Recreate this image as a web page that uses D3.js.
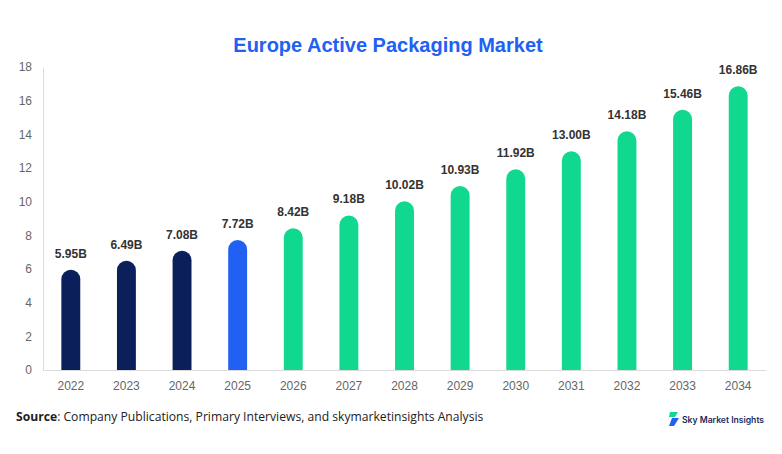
<!DOCTYPE html>
<html><head><meta charset="utf-8">
<script src="https://cdn.jsdelivr.net/npm/d3@7"></script>
<style>body{margin:0;background:#fff}svg{display:block}</style>
</head><body>
<svg id="c" width="782" height="454"></svg>
<script>
const years = ["2022","2023","2024","2025","2026","2027","2028","2029","2030","2031","2032","2033","2034"];
const values = [5.95,6.49,7.08,7.72,8.42,9.18,10.02,10.93,11.92,13.00,14.18,15.46,16.86];
const labels = ["5.95B","6.49B","7.08B","7.72B","8.42B","9.18B","10.02B","10.93B","11.92B","13.00B","14.18B","15.46B","16.86B"];
const yTicks = [0,2,4,6,8,10,12,14,16,18];
const colorFor = y => (+y <= 2024 ? "#0b1f5b" : (+y === 2025 ? "#2160f3" : "#10d88f"));

const svg = d3.select("#c");
const m = {l:43, r:16, t:67, b:84};
const W = 782, H = 454;
const x = d3.scaleBand().domain(years).range([m.l, W - m.r]).paddingInner(0.66).paddingOuter(0.33);
const y = d3.scaleLinear().domain([0,18]).range([H - m.b, m.t]);

svg.append("text").attr("x", 388).attr("y", 52).attr("text-anchor","middle")
  .attr("font-family","Liberation Sans, Arial, sans-serif").attr("font-weight","bold")
  .attr("font-size", 20).attr("fill","#2160f3").text("Europe Active Packaging Market");

// axes
const ya = svg.append("g").attr("transform",`translate(${m.l},0)`)
  .call(d3.axisLeft(y).tickValues(yTicks).tickSize(0).tickPadding(11));
ya.select(".domain").attr("stroke","#dcdcdc");
ya.selectAll("text").attr("font-family","Liberation Sans, Arial, sans-serif").attr("font-size",12).attr("fill","#666");

const xa = svg.append("g").attr("transform",`translate(0,${H - m.b})`)
  .call(d3.axisBottom(x).tickSize(0).tickPadding(11));
xa.select(".domain").attr("stroke","#dcdcdc").attr("d", `M${m.l},0.5H${W - m.r}`);
xa.selectAll("text").attr("font-family","Liberation Sans, Arial, sans-serif").attr("font-size",12).attr("fill","#666");

// bars with rounded tops
const bw = x.bandwidth(), r = bw/2;
svg.append("g").selectAll("path").data(years).join("path")
  .attr("fill", d => colorFor(d))
  .attr("d", (d,i) => {
    const x0 = x(d), y0 = y(values[i]), yb = y(0);
    return `M${x0},${yb}V${y0 + r}A${r},${r} 0 0 1 ${x0 + bw},${y0 + r}V${yb}Z`;
  });

svg.append("g").selectAll("text").data(years).join("text")
  .attr("x", d => x(d) + bw/2).attr("y", (d,i) => y(values[i]) - 12)
  .attr("text-anchor","middle").attr("font-family","Liberation Sans, Arial, sans-serif")
  .attr("font-weight","bold").attr("font-size",12).attr("fill","#333")
  .text((d,i) => labels[i]);

// source
const src = svg.append("text").attr("x",16).attr("y",421)
  .attr("font-family","Open Sans, Noto Sans, sans-serif").attr("font-size",12.15).attr("fill","#222");
src.append("tspan").attr("font-weight","bold").text("Source");
src.append("tspan").text(": Company Publications, Primary Interviews, and skymarketinsights Analysis");

// logo
const lg = svg.append("g").attr("transform","translate(668,412)");
lg.append("path").attr("d","M2,0H10L7,5H1Z").attr("fill","#10d88f");
lg.append("path").attr("d","M4,6H11L6,14H1Z").attr("fill","#2160f3");
lg.append("text").attr("x",14).attr("y",11).attr("font-family","Inter, Roboto, sans-serif")
  .attr("font-weight","600").attr("font-size",8.6).attr("fill","#1b2a5a").text("Sky Market Insights");
</script>
</body></html>
